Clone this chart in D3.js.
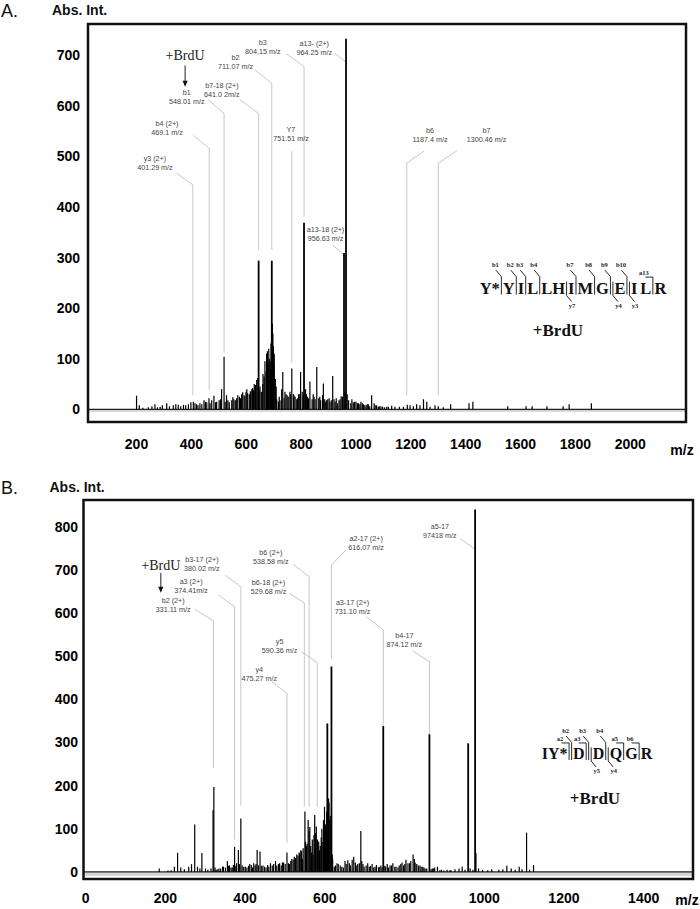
<!DOCTYPE html>
<html>
<head>
<meta charset="utf-8">
<title>MS/MS spectra, +BrdU peptides</title>
<style>
  body { margin: 0; background: #fff; }
  svg { display: block; }
  .panel-letter { font-family: "Liberation Sans", Arial, sans-serif; font-size: 18px; fill: #111; }
  .ytitle { font-family: "Liberation Sans", Arial, sans-serif; font-size: 14px; font-weight: bold; fill: #111; }
  .ann { font-family: "Liberation Sans", Arial, sans-serif; font-size: 7.2px; fill: #444; text-anchor: middle; }
  .lead { stroke: #b8b8b8; stroke-width: 0.8; fill: none; }
  .brdu { font-family: "Liberation Serif", "Times New Roman", serif; font-size: 14px; fill: #222; text-anchor: middle; }
  .seq { font-family: "Liberation Serif", "Times New Roman", serif; font-weight: bold; fill: #111; }
  .ion { font-family: "Liberation Serif", "Times New Roman", serif; font-weight: bold; font-size: 6.5px; fill: #222; text-anchor: middle; }
</style>
</head>
<body>
<script src="https://d3js.org/d3.v7.min.js"></script>
<script>

// ---- data : panel A (Y*YILLHIMGEILR) ----
var xTicksA = [200, 400, 600, 800, 1000, 1200, 1400, 1600, 1800, 2000];
var yTicksA = [0, 100, 200, 300, 400, 500, 600, 700];

// [m/z, abs. intensity]
var peaksA = [
  [202, 27], [212, 8], [225, 3], [245, 4], [258, 6], [269, 10], [278, 4], [288, 5], [296, 8],
  [312, 12], [322, 6], [336, 8], [345, 10], [354, 9], [363, 6], [373, 9], [381, 8], [391, 10],
  [400, 14], [409, 15], [415, 12], [421, 10], [426, 8], [433, 12], [440, 10], [448, 18], [453, 15],
  [458, 14], [466, 22], [470, 12], [476, 18], [484, 27], [490, 14], [494, 15], [503, 18], [508, 20],
  [512, 40], [521, 104], [525, 15], [530, 28], [535, 18], [540, 14], [549, 18], [553, 24], [557, 20],
  [562, 18], [567, 22], [571, 28], [577, 25], [581, 22], [585, 30], [589, 34], [594, 28], [597, 26],
  [601, 35], [604, 40], [607, 32], [613, 30], [617, 36], [622, 40], [625, 42], [628, 38], [631, 50],
  [634, 45], [636, 48], [640, 58], [644, 62], [647, 294], [649, 40], [652, 45], [657, 35], [662, 50],
  [663, 70], [667, 65], [670, 95], [674, 75], [676, 110], [679, 115], [682, 90], [684, 120], [686, 100],
  [689, 95], [691, 80], [692, 130], [695, 294], [697, 170], [699, 150], [701, 125], [703, 90], [704, 110],
  [708, 60], [711, 45], [713, 20], [719, 15], [722, 25], [725, 18], [731, 40], [735, 74], [740, 22],
  [743, 35], [747, 30], [751, 28], [755, 25], [761, 35], [764, 30], [768, 81], [774, 30], [776, 28],
  [780, 25], [786, 20], [789, 22], [793, 30], [797, 30], [800, 74], [806, 35], [810, 28], [812.5, 369],
  [818, 40], [821, 30], [825, 25], [829, 22], [834, 55], [842, 20], [846, 30], [849, 25], [853, 20],
  [859, 84], [866, 22], [870, 25], [873, 18], [880, 28], [883, 51], [888, 20], [890, 15], [895, 18],
  [899, 20], [904, 22], [907, 15], [912, 18], [917, 66], [922, 20], [926, 15], [930, 22], [935, 12],
  [940, 18], [944, 20], [948, 26], [953, 25], [958.3, 309], [962, 35], [965.6, 733], [970, 30], [975, 18],
  [983, 12], [987, 20], [992, 14], [997, 15], [1002, 15], [1007, 12], [1011, 12], [1016, 10], [1020, 15],
  [1025, 12], [1029, 10], [1034, 8], [1039, 8], [1043, 10], [1047, 10], [1052, 6], [1059, 28], [1068, 12],
  [1072, 8], [1077, 8], [1083, 5], [1087, 6], [1093, 6], [1099, 5], [1106, 4], [1114, 5], [1120, 5],
  [1132, 7], [1144, 5], [1160, 5], [1175, 5], [1189, 9], [1199, 8], [1211, 6], [1223, 10], [1235, 8],
  [1248, 20], [1260, 15], [1272, 5], [1290, 8], [1302, 6], [1320, 4], [1347, 10], [1414, 12], [1428, 15],
  [1555, 6], [1622, 6], [1644, 6], [1698, 6], [1757, 6], [1779, 10], [1860, 12]
];

// [line 1, line 2, label m/z, label int, leader start m/z, start int, peak m/z, elbow int, end int]
var notesA = [
  ["y3 (2+)", "401.29 m/z", 269, 497, 348, 467, 407, 444, 28],
  ["b4 (2+)", "469.1 m/z", 313, 566, 409, 542, 467, 516, 38],
  ["b1", "548.01 m/z", 385, 626, 464, 612, 521, 585, 112],
  ["b7-18 (2+)", "641.0 2m/z", 513, 641, 579, 612, 647, 585, 315],
  ["b2", "711.07 m/z", 563, 695, 634, 671, 695, 645, 315],
  ["b3", "804.15 m/z", 662, 726, 749, 703, 812.5, 678, 381],
  ["a13- (2+)", "964.25 m/z", 850, 724, 923, 705, 965.6, 687, 687],
  ["Y7", "751.51 m/z", 765, 553, 768, 511, 768, 511, 92],
  ["a13-18 (2+)", "956.63 m/z", 891, 355, 917, 325, 958.3, 305, 305],
  ["b6", "1187.4 m/z", 1272, 552, 1251, 511, 1187, 487, 28],
  ["b7", "1300.46 m/z", 1478, 552, 1369, 511, 1302, 487, 28]
];
// [text m/z, text int, arrow top int, arrow tip int]
var brduA = [379, 700, 680, 638];

var seqA = ["Y*", "Y", "I", "L", "L", "H", "I", "M", "G", "E", "I", "L", "R"];
// [ion, after residue, marker kind]
var cutsA = [["b1", 1, "b"], ["b2", 2, "b"], ["b3", 3, "b"], ["b4", 4, "b"], ["y7", 6, "y"],
  ["b7", 7, "b"], ["b8", 8, "b"], ["b9", 9, "b"], ["y4", 9, "y"], ["b10", 10, "b"], ["y3", 10, "y"],
  ["", 11, "gap"], ["a13", 12, "a"]];

// ---- data : panel B (IY*DDQGR) ----
var xTicksB = [0, 200, 400, 600, 800, 1000, 1200, 1400];
var yTicksB = [0, 100, 200, 300, 400, 500, 600, 700, 800];

var peaksB = [
  [186, 8], [208, 3], [216, 4], [224, 12], [232, 44], [240, 10], [249, 6], [260, 12], [267, 18],
  [275, 110], [282, 12], [288, 8], [293, 44], [302, 8], [308, 5], [316, 8], [321, 143], [323, 197],
  [326, 10], [329, 5], [333, 6], [336, 8], [340, 8], [345, 12], [347, 12], [352, 10], [357, 25],
  [360, 14], [362, 15], [366, 10], [369, 10], [372, 16], [375, 58], [378, 14], [380, 20], [384.5, 51],
  [387, 18], [390.7, 124], [394, 15], [398, 12], [402, 12], [406, 10], [410, 14], [413, 18], [417, 16],
  [420, 10], [423, 20], [426.5, 15], [429, 18], [431.6, 51], [435, 15], [438.8, 47], [442, 14], [446, 15],
  [450, 12], [454, 10], [458, 16], [461, 12], [465, 20], [469.5, 15], [473, 18], [477.7, 25], [481, 15],
  [485, 18], [488, 20], [492, 15], [495, 22], [498, 22], [502, 18], [506.4, 45], [510, 20], [512.5, 18],
  [516, 25], [518.6, 30], [522, 28], [524.8, 35], [528, 32], [531, 40], [534, 38], [537, 45], [538, 42],
  [541, 50], [543, 48], [545, 30], [547, 55], [551.4, 140], [553, 70], [555.5, 60], [557, 65], [559.6, 120],
  [562, 95], [563.7, 104], [566, 60], [568, 45], [570, 75], [572, 40], [574, 85], [576, 132], [578, 90],
  [580, 105], [583, 75], [584, 66], [586, 70], [588, 50], [590, 60], [592.4, 80], [594, 100], [596.5, 70],
  [598, 120], [600.6, 151], [603, 110], [604, 90], [606, 140], [607.7, 344], [610.8, 170], [612, 160],
  [613.9, 120], [615, 130], [618, 476], [620, 40], [621, 30], [625, 12], [628, 15], [632, 20], [635, 18],
  [640, 15], [644, 12], [648, 10], [652, 25], [655, 18], [659, 27], [663, 20], [666, 15], [670, 28],
  [674, 35], [678, 22], [681.5, 15], [684, 18], [688, 20], [691.7, 95], [694, 25], [697, 18], [700, 12],
  [705, 15], [709, 20], [713, 12], [716, 14], [720, 18], [724, 10], [727.5, 12], [731, 16], [736, 10],
  [738, 12], [742, 15], [745, 10], [748, 338], [752, 14], [754, 12], [758, 18], [761, 10], [765, 15],
  [768.5, 15], [772, 20], [777, 12], [780, 12], [785, 10], [788, 15], [792, 18], [795, 22], [799, 15],
  [802, 18], [805, 28], [810, 20], [814, 20], [817, 25], [822.8, 40], [826, 30], [828, 22], [832, 18],
  [836, 15], [840, 15], [843, 12], [847, 12], [850, 10], [853, 8], [857, 8], [863.8, 319], [868, 6],
  [871, 8], [874, 8], [877, 10], [884, 12], [890, 4], [894, 5], [900, 3], [908, 5], [915, 4], [918, 4],
  [928, 6], [938, 8], [946, 12], [953, 5], [961, 298], [966, 8], [973, 5], [978.4, 840], [980.5, 44],
  [987, 8], [997, 5], [1010, 4], [1020, 6], [1038, 5], [1048, 6], [1058, 14], [1069, 8], [1079, 5],
  [1089, 12], [1096, 6], [1107.5, 91], [1115, 5], [1125, 16]
];

var notesB = [
  ["b2 (2+)", "331.11 m/z", 221, 628, 276, 608, 322, 582, 241],
  ["a3 (2+)", "374.41m/z", 266, 672, 334, 642, 375, 615, 75],
  ["b3-17 (2+)", "380.02 m/z", 293, 723, 351, 688, 390.7, 661, 153],
  ["b6 (2+)", "538.58 m/z", 466, 741, 522, 713, 562, 684, 151],
  ["b6-18 (2+)", "529.68 m/z", 460, 670, 512, 646, 550, 623, 151],
  ["y5", "590.36 m/z", 488, 534, 543, 510, 582.5, 485, 151],
  ["y4", "475.27 m/z", 437, 470, 468, 441, 506.4, 414, 66],
  ["a2-17 (2+)", "616.07 m/z", 705, 773, 654, 746, 618, 711, 495],
  ["a3-17 (2+)", "731.10 m/z", 671, 624, 706, 591, 748, 561, 338],
  ["b4-17", "874.12 m/z", 801, 549, 823, 512, 863.8, 487, 319],
  ["a5-17", "97418 m/z", 890, 800, 940, 773, 978.4, 748, 748]
];
var brduB = [190, 711, 693, 647];

var seqB = ["I", "Y*", "D", "D", "Q", "G", "R"];
var cutsB = [["a2", 2, "a"], ["b2", 2, "b"], ["a3", 3, "a"], ["b3", 3, "b"], ["y5", 3, "y"],
  ["b4", 4, "b"], ["y4", 4, "y"], ["a5", 5, "a"], ["b6", 6, "a"]];

// ---- layout ----
var panels = [
  { letter: "A.", letterY: 17, titleX: 52, titleY: 14.5,
    left: 88, right: 686, top: 24, bottom: 422, xDomain: [25, 2205], yDomain: [-25, 762],
    xTicks: xTicksA, yTicks: yTicksA, peaks: peaksA, notes: notesA, brdu: brduA,
    yLabelRight: 80, xLabelPad: 17, mzX: 682, mzY: 455, band: 2.5,
    seq: seqA, cuts: cutsA, seqX: 573, seqY: 293.5, seqSize: 16.5, seqBrduX: 558, seqBrduY: 336 },
  { letter: "B.", letterY: 494, titleX: 49.5, titleY: 491.5,
    left: 83.5, right: 693, top: 500, bottom: 879, xDomain: [-4, 1525], yDomain: [-16.5, 862],
    xTicks: xTicksB, yTicks: yTicksB, peaks: peaksB, notes: notesB, brdu: brduB,
    yLabelRight: 78, xLabelPad: 14, mzX: 687, mzY: 905, band: 4,
    seq: seqB, cuts: cutsB, seqX: 597, seqY: 759, seqSize: 16, seqBrduX: 595, seqBrduY: 804 }
];

var svg = d3.select("body").append("svg")
    .attr("width", 700)
    .attr("height", 909);

panels.forEach(drawPanel);

function drawPanel(p) {
  var x = d3.scaleLinear().domain(p.xDomain).range([p.left, p.right]);
  var y = d3.scaleLinear().domain(p.yDomain).range([p.bottom, p.top]);
  var g = svg.append("g");

  g.append("text").attr("class", "panel-letter").attr("x", 1).attr("y", p.letterY).text(p.letter);
  g.append("text").attr("class", "ytitle").attr("x", p.titleX).attr("y", p.titleY).text("Abs. Int.");

  // zero line with grey band under it
  g.append("rect")
      .attr("x", p.left).attr("y", y(0))
      .attr("width", p.right - p.left).attr("height", p.band)
      .attr("fill", "#d4d4d4");
  g.append("line")
      .attr("x1", p.left).attr("x2", p.right)
      .attr("y1", y(0)).attr("y2", y(0))
      .attr("stroke", "#222").attr("stroke-width", 1.4);

  // leader lines for the labelled ions
  g.selectAll("path.lead").data(p.notes).join("path")
      .attr("class", "lead")
      .attr("d", function(d) {
        return "M" + x(d[4]) + "," + y(d[5]) + "L" + x(d[6]) + "," + y(d[7]) + "L" + x(d[6]) + "," + y(d[8]);
      });

  var labels = g.selectAll("g.note").data(p.notes).join("g").attr("class", "note");
  labels.append("text").attr("class", "ann")
      .attr("x", function(d) { return x(d[2]); })
      .attr("y", function(d) { return y(d[3]) + 2.5; })
      .text(function(d) { return d[0]; });
  labels.append("text").attr("class", "ann")
      .attr("x", function(d) { return x(d[2]); })
      .attr("y", function(d) { return y(d[3]) + 11.5; })
      .text(function(d) { return d[1]; });

  // the spectrum
  g.selectAll("line.peak").data(p.peaks).join("line")
      .attr("class", "peak")
      .attr("x1", function(d) { return x(d[0]); })
      .attr("x2", function(d) { return x(d[0]); })
      .attr("y1", y(0))
      .attr("y2", function(d) { return y(d[1]); })
      .attr("stroke", "#000")
      .attr("stroke-width", function(d) { return d[1] > 250 ? 1.8 : 1.2; });

  // +BrdU with arrow
  var b = p.brdu;
  g.append("text").attr("class", "brdu")
      .attr("x", x(b[0])).attr("y", y(b[1])).attr("dy", "0.35em").text("+BrdU");
  g.append("line")
      .attr("x1", x(b[0])).attr("x2", x(b[0]))
      .attr("y1", y(b[2])).attr("y2", y(b[3]) - 4)
      .attr("stroke", "#222").attr("stroke-width", 1);
  g.append("path")
      .attr("d", "M" + (x(b[0]) - 2.6) + "," + (y(b[3]) - 6) + "L" + (x(b[0]) + 2.6) + "," + (y(b[3]) - 6) +
                 "L" + x(b[0]) + "," + y(b[3]) + "Z")
      .attr("fill", "#111");

  // frame
  g.append("rect")
      .attr("x", p.left).attr("y", p.top)
      .attr("width", p.right - p.left).attr("height", p.bottom - p.top)
      .attr("fill", "none").attr("stroke", "#111").attr("stroke-width", 2.5);

  // axes (labels only)
  g.append("g")
      .attr("transform", "translate(" + p.left + ",0)")
      .call(d3.axisLeft(y).tickValues(p.yTicks).tickSize(0).tickPadding(p.left - p.yLabelRight).tickFormat(d3.format("d")))
      .call(function(a) { a.select(".domain").remove(); })
      .attr("font-family", "'Liberation Sans', Arial, sans-serif")
      .attr("font-size", 14).attr("font-weight", "bold");
  g.append("g")
      .attr("transform", "translate(0," + p.bottom + ")")
      .call(d3.axisBottom(x).tickValues(p.xTicks).tickSize(0).tickPadding(p.xLabelPad).tickFormat(d3.format("d")))
      .call(function(a) { a.select(".domain").remove(); })
      .attr("font-family", "'Liberation Sans', Arial, sans-serif")
      .attr("font-size", 14).attr("font-weight", "bold");
  g.append("text")
      .attr("x", p.mzX).attr("y", p.mzY)
      .attr("text-anchor", "middle")
      .style("font-family", "'Liberation Sans', Arial, sans-serif")
      .style("font-size", "14px").style("font-weight", "bold")
      .text("m/z");

  drawSequence(g, p);
}

// peptide with fragment markers
function drawSequence(g, p) {
  var fs = p.seqSize, capH = fs * 0.66, base = p.seqY, top = base - capH;
  var s = g.append("g");

  var letters = s.selectAll("text.seq").data(p.seq).join("text")
      .attr("class", "seq").style("font-size", fs + "px").text(function(d) { return d; });
  var widths = [];
  letters.each(function() { widths.push(this.getComputedTextLength()); });

  var byGap = d3.group(p.cuts, function(c) { return c[1]; });
  var gapW = function(i) {
    var c = byGap.get(i);
    return c ? 3 + 2.5 * (c.length - 1) : 0;
  };
  var total = d3.sum(widths) + d3.sum(p.seq, function(d, i) { return gapW(i + 1); });
  var cx = p.seqX - total / 2, pos = [], marks = [];
  p.seq.forEach(function(d, i) {
    pos.push(cx);
    cx += widths[i];
    var c = byGap.get(i + 1);
    if (c) {
      c.forEach(function(m, k) { marks.push({ ion: m[0], kind: m[2], vx: cx + 1.5 + 2.5 * k }); });
      cx += gapW(i + 1);
    }
  });
  letters.attr("x", function(d, i) { return pos[i]; }).attr("y", base);

  marks.forEach(function(m) {
    var path = null, lx, ly;
    if (m.kind == "b") {
      path = "M" + (m.vx - 5.5) + "," + (top - 12.5) + "L" + m.vx + "," + (top - 6) + "L" + m.vx + "," + (base + 1);
      lx = m.vx - 6; ly = top - 15.3;
    } else if (m.kind == "y") {
      path = "M" + m.vx + "," + (top - 1) + "L" + m.vx + "," + (base + 2) + "L" + (m.vx + 5) + "," + (base + 8);
      lx = m.vx + 5.5; ly = base + 14;
    } else if (m.kind == "a") {
      path = "M" + (m.vx - 7.5) + "," + (top - 5.5) + "L" + m.vx + "," + (top - 5.5) + "L" + m.vx + "," + (base + 1);
      lx = m.vx - 9; ly = top - 7.5;
    }
    if (!path) return;
    s.append("path").attr("d", path).attr("fill", "none").attr("stroke", "#111").attr("stroke-width", 0.9);
    s.append("text").attr("class", "ion").attr("x", lx).attr("y", ly).text(m.ion);
  });

  s.append("text")
      .attr("class", "seq").style("font-size", "17px")
      .attr("x", p.seqBrduX).attr("y", p.seqBrduY)
      .attr("text-anchor", "middle")
      .text("+BrdU");
}

</script>
</body>
</html>
